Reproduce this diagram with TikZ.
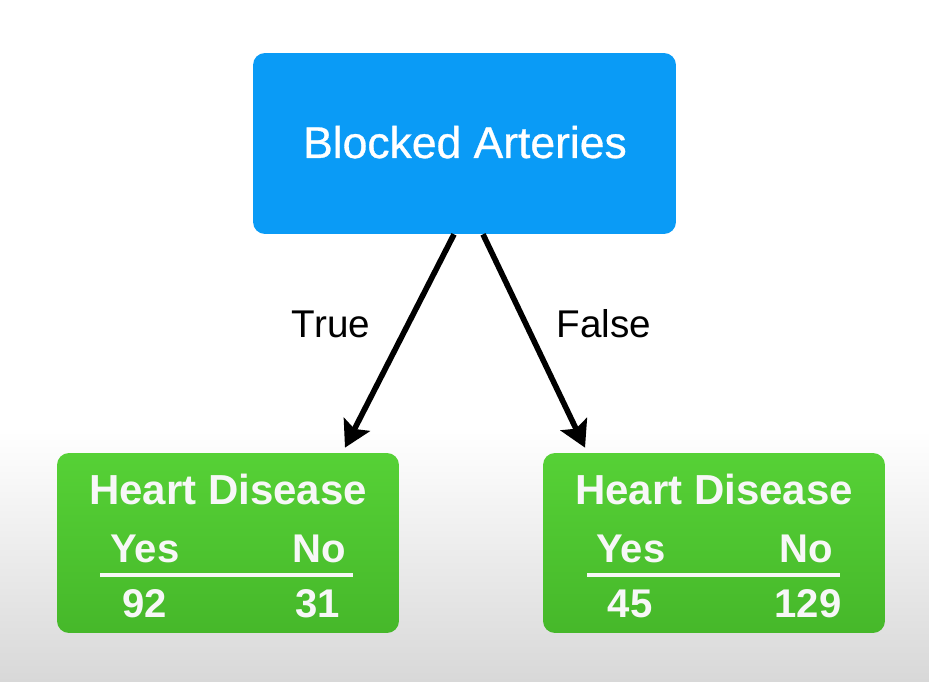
\documentclass[tikz,border=0pt]{standalone}
\usepackage{fontspec}
\setmainfont{Liberation Sans}
\newfontfamily\medfont[FakeBold=0.7]{Liberation Sans}
\usetikzlibrary{arrows.meta}
\definecolor{bluebox}{RGB}{10,155,246}
\definecolor{greentop}{RGB}{86,209,54}
\definecolor{greenbot}{RGB}{70,184,42}
\definecolor{bggrey}{RGB}{216,216,216}
\tikzset{
  rootbox/.style={draw=none, fill=bluebox, rounded corners=0.24cm, minimum width=8.46cm, minimum height=3.62cm, inner sep=0pt},
  leafbox/.style={draw=none, top color=greentop, bottom color=greenbot, rounded corners=0.24cm, minimum width=6.84cm, minimum height=3.6cm, inner sep=0pt},
  roottext/.style={text=white, font=\medfont\fontsize{25.3}{30}\selectfont, anchor=base, inner sep=0pt},
  headtext/.style={text=white!94!gray, font=\bfseries\fontsize{23.9}{28}\selectfont, anchor=base, inner sep=0pt},
  celltext/.style={text=white!94!gray, font=\bfseries\fontsize{22.8}{26}\selectfont, anchor=base, inner sep=0pt},
  edgetext/.style={text=black, font=\fontsize{22}{26}\selectfont, anchor=base, inner sep=0pt},
  rule/.style={draw=white!94!gray, line width=2pt},
  arrowline/.style={draw=black, line width=3.2pt, -{Stealth[length=0.52cm, width=0.58cm, inset=0.1cm]}}
}
\begin{document}
\begin{tikzpicture}[x=0.02cm, y=-0.02cm]
\useasboundingbox (0,0) rectangle (929,682);
\fill[white] (0,0) rectangle (929,430);
\shade[top color=white, bottom color=bggrey] (0,430) rectangle (929,682);

% root
\node[rootbox] (ba) at (464.5,143.5) {};
\node[roottext] (batext) at (465,158) {Blocked Arteries};

% leaves
\node[leafbox] (hl) at (228,543) {};
\node[leafbox] (hr) at (714,543) {};

\node[headtext] (hlh) at (228,504) {Heart Disease};
\node[celltext] (hly) at (145,562) {Yes};
\node[celltext] (hln) at (319,562) {No};
\node[celltext] (hlv1) at (145,617) {92};
\node[celltext] (hlv2) at (318,617) {31};
\coordinate (hla) at (100,575);
\coordinate (hlb) at (353,575);
\draw[rule] (hla) -- (hlb);

\node[headtext] (hrh) at (714,504) {Heart Disease};
\node[celltext] (hry) at (631,562) {Yes};
\node[celltext] (hrn) at (806,562) {No};
\node[celltext] (hrv1) at (630,617) {45};
\node[celltext] (hrv2) at (808,617) {129};
\coordinate (hra) at (587,575);
\coordinate (hrb) at (840,575);
\draw[rule] (hra) -- (hrb);

% connectors
\draw[arrowline] ([xshift=-0.21cm]ba.south) -- ([xshift=2.34cm, yshift=0.1cm]hl.north);
\draw[arrowline] ([xshift=0.37cm]ba.south) -- ([xshift=-2.58cm, yshift=0.1cm]hr.north);

\node[edgetext] (lt) at (331,337) {True};
\node[edgetext] (lf) at (604,337) {False};
\end{tikzpicture}
\end{document}
